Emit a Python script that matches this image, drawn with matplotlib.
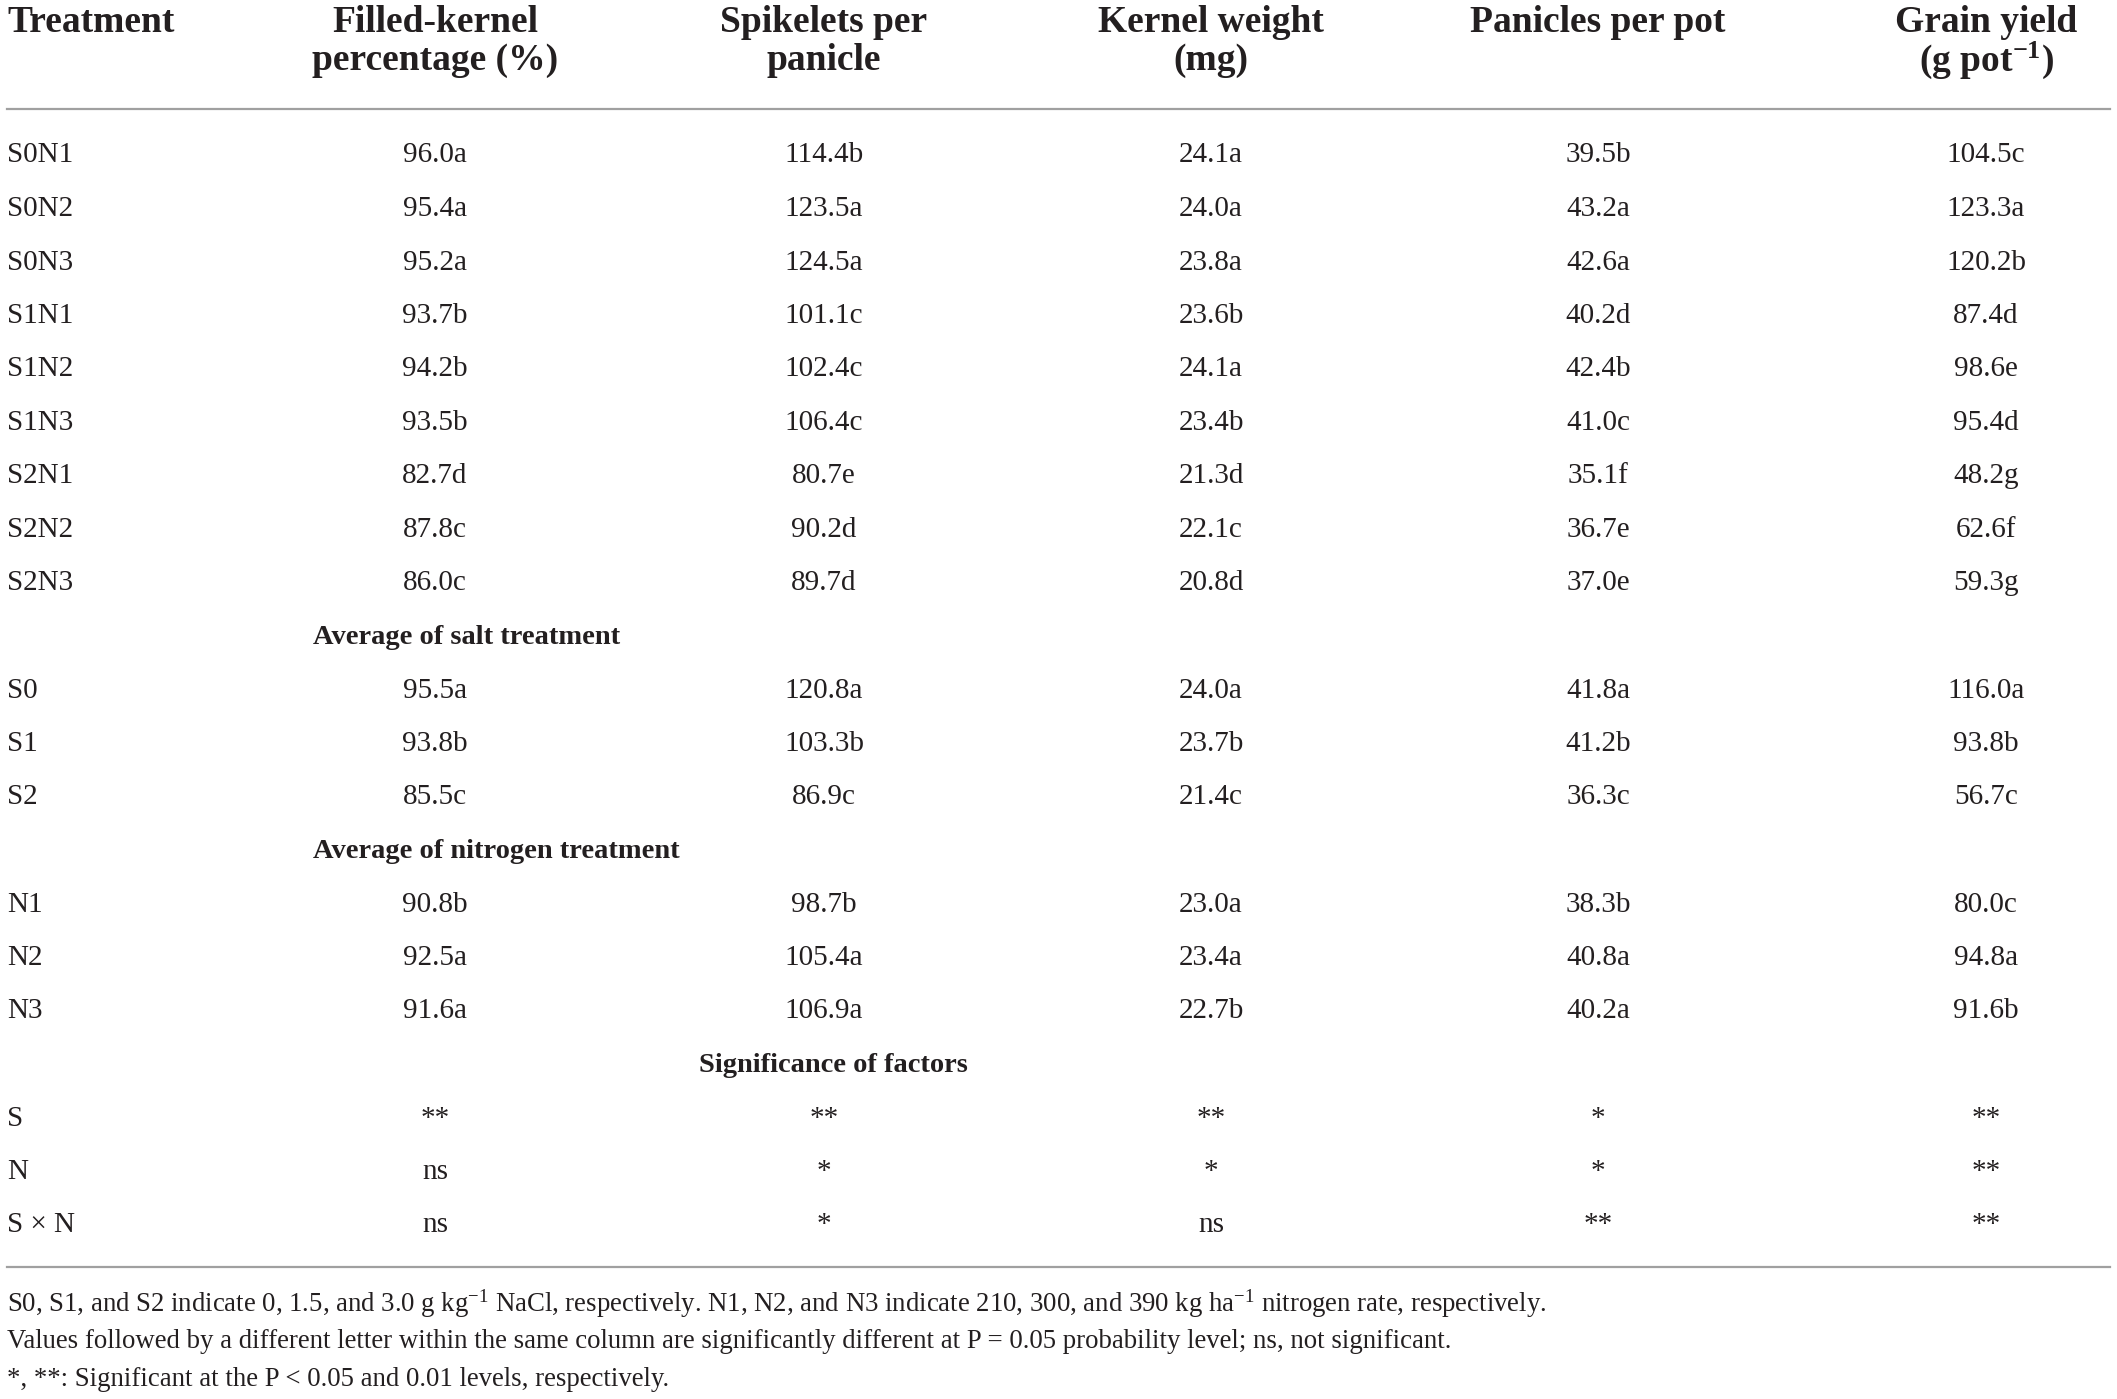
import matplotlib.pyplot as plt
from matplotlib.lines import Line2D

plt.rcParams['font.family'] = ['Liberation Serif', 'DejaVu Serif']
plt.rcParams['mathtext.fontset'] = 'custom'
plt.rcParams['mathtext.rm'] = 'Liberation Serif'
plt.rcParams['mathtext.it'] = 'Liberation Serif:italic'
plt.rcParams['mathtext.bf'] = 'Liberation Serif:bold'

# table content
headers = ['Filled-kernel\npercentage (%)', 'Spikelets per\npanicle', 'Kernel weight\n(mg)',
           'Panicles per pot', 'Grain yield\n' + r'(g pot$^{\mathbf{-1}}$)']
row_labels = ['S0N1', 'S0N2', 'S0N3', 'S1N1', 'S1N2', 'S1N3', 'S2N1', 'S2N2', 'S2N3',
              'Average of salt treatment', 'S0', 'S1', 'S2',
              'Average of nitrogen treatment', 'N1', 'N2', 'N3',
              'Significance of factors', 'S', 'N', 'S \u00d7 N']
filled = ['96.0a', '95.4a', '95.2a', '93.7b', '94.2b', '93.5b', '82.7d', '87.8c', '86.0c',
          None, '95.5a', '93.8b', '85.5c', None, '90.8b', '92.5a', '91.6a', None, '**', 'ns', 'ns']
spikelets = ['114.4b', '123.5a', '124.5a', '101.1c', '102.4c', '106.4c', '80.7e', '90.2d', '89.7d',
             None, '120.8a', '103.3b', '86.9c', None, '98.7b', '105.4a', '106.9a', None, '**', '*', '*']
kernel = ['24.1a', '24.0a', '23.8a', '23.6b', '24.1a', '23.4b', '21.3d', '22.1c', '20.8d',
          None, '24.0a', '23.7b', '21.4c', None, '23.0a', '23.4a', '22.7b', None, '**', '*', 'ns']
panicles = ['39.5b', '43.2a', '42.6a', '40.2d', '42.4b', '41.0c', '35.1f', '36.7e', '37.0e',
            None, '41.8a', '41.2b', '36.3c', None, '38.3b', '40.8a', '40.2a', None, '*', '*', '**']
grain = ['104.5c', '123.3a', '120.2b', '87.4d', '98.6e', '95.4d', '48.2g', '62.6f', '59.3g',
         None, '116.0a', '93.8b', '56.7c', None, '80.0c', '94.8a', '91.6b', None, '**', '**', '**']
columns = [filled, spikelets, kernel, panicles, grain]
section_left = {9: 313, 13: 313, 17: 699}
notes = [r'S0, S1, and S2 indicate 0, 1.5, and 3.0 g kg$^{-1}$ NaCl, respectively. N1, N2, and N3 indicate 210, 300, and 390 kg ha$^{-1}$ nitrogen rate, respectively.',
         'Values followed by a different letter within the same column are significantly different at P = 0.05 probability level; ns, not significant.',
         '*, **: Significant at the P < 0.05 and 0.01 levels, respectively.']

W, H = 2117, 1399
fig = plt.figure(figsize=(W / 100, H / 100), dpi=100)
ink = '#231f20'

def px(x, y):
    return x / W, 1 - y / H

col_x = [435, 824, 1211, 1598, 1986]
row_y0, row_dy = 155.5, 53.5
head_fs, body_fs, sect_fs = 27, 21, 20.5

# header
fig.text(*px(7, 22), 'Treatment', ha='left', va='center', fontsize=head_fs, fontweight='bold', color=ink)
for cx, h in zip(col_x, headers):
    lines = h.split('\n')
    for k, ln in enumerate(lines):
        fig.text(*px(cx, 22 + 38 * k), ln, ha='center', va='center', fontsize=head_fs,
                 fontweight='bold', color=ink)

# rules
for yy in [109, 1267]:
    fig.add_artist(Line2D([7 / W, 2110 / W], [1 - yy / H] * 2, color='#a0a0a0', lw=1.6))

# body
for i, lab in enumerate(row_labels):
    y = row_y0 + i * row_dy
    if i in section_left:
        fig.text(*px(section_left[i], y), lab, ha='left', va='center', fontsize=sect_fs,
                 fontweight='bold', color=ink)
        continue
    fig.text(*px(7, y), lab, ha='left', va='center', fontsize=body_fs, color=ink)
    for cx, col in zip(col_x, columns):
        fig.text(*px(cx, y), col[i], ha='center', va='center', fontsize=body_fs, color=ink)

# footnotes
for k, n in enumerate(notes):
    fig.text(*px(7, 1304 + 38 * k), n, ha='left', va='center', fontsize=19.3, color=ink)

fig.savefig('out.png', dpi=100)
